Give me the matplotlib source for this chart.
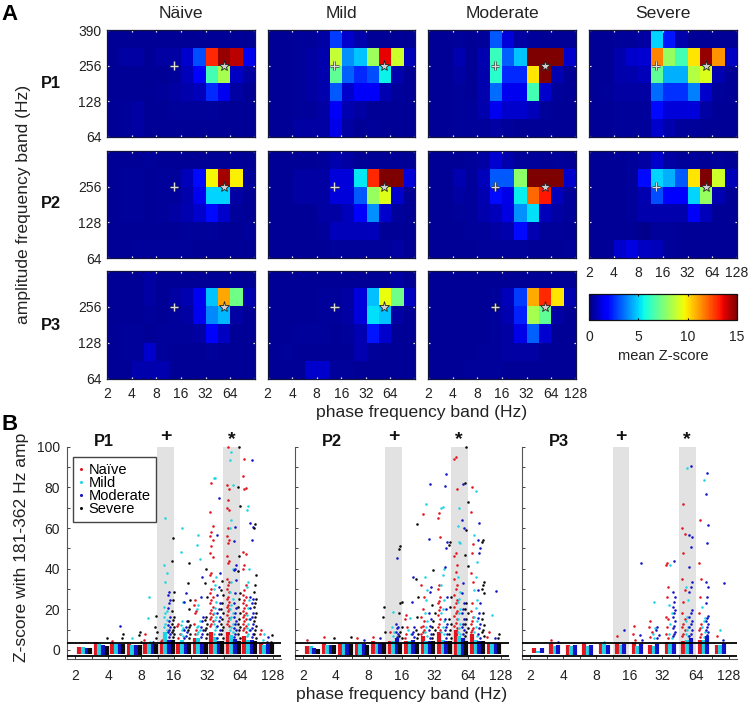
import matplotlib
matplotlib.use("Agg")
import matplotlib.pyplot as plt
import matplotlib.patheffects as pe
from matplotlib.cm import ScalarMappable
from matplotlib.colors import Normalize
from matplotlib.ticker import NullFormatter

plt.rcParams['font.family'] = ['Liberation Sans', 'DejaVu Sans']

W, H = 749, 706

PHASE_TICKS = [2, 4, 8, 16, 32, 64, 128]
GROUPS = ["Naïve", "Mild", "Moderate", "Severe"]
COLORS = ['#e3141f', '#1fd5e4', '#1212c8', '#0a0a0a']
DODGE = [0.27, 0.48, 0.7, 0.92]

# mean Z-score maps: 6 amplitude bands (top row first) x 12 phase bands
MAP_P1_NAIVE = [
    [.3, .3, .3, .3, .3, .3, .3, .3, .3, .3, .3, .3],
    [.3, .5, .5, .3, .5, .5, 1.0, 3.0, 13.0, 14.7, 14.2, 1.5],
    [.3, .3, .3, .3, .3, .4, .8, 1.8, 6.5, 8.3, .9, .5],
    [.3, .3, .3, .3, .4, .5, .6, .8, 2.5, 1.5, .5, .3],
    [.3, .4, .5, .3, .3, .4, .4, .4, .4, .3, .3, .3],
    [.3, .4, .5, .3, .3, .3, .3, .3, .3, .3, .3, .3],
]
MAP_P1_MILD = [
    [.3, .3, .4, .4, .5, 2.8, 1.0, .6, .3, .3, .3, .3],
    [.3, .3, .4, .5, .6, 8.8, 4.0, 4.8, 8.1, 13.6, 9.0, .8],
    [.3, .3, .4, .5, .6, 7.0, 3.3, 2.5, 3.0, 5.5, .6, .3],
    [.3, .3, .4, .5, .6, 3.2, 1.0, 1.6, 1.6, .7, .4, .3],
    [.3, .3, .4, .4, .5, 1.6, .7, .5, .3, .3, .3, .3],
    [.3, .3, .5, .5, .5, 1.4, .5, .3, .4, .3, .3, .3],
]
MAP_P1_MODERATE = [
    [.3, .3, .4, .3, .4, 3.2, 1.2, .5, .4, .3, .3, .3],
    [.3, .3, .7, .3, .7, 6.3, 3.3, 4.8, 15, 15, 15, 1.0],
    [.3, .3, .5, .3, .6, 6.0, 2.5, 2.5, 10.0, 15, .7, .3],
    [.3, .3, .4, .3, .6, 3.5, 1.5, 1.5, 6.5, 1.0, .4, .3],
    [.3, .3, .4, .4, .6, 1.5, 1.0, 1.0, .8, .4, .3, .3],
    [.3, .3, .4, .4, .4, .5, .4, .3, .3, .3, .3, .3],
]
MAP_P1_SEVERE = [
    [.3, .3, .4, .4, .5, 5.0, 2.2, .6, .3, .3, .3, .3],
    [.3, .3, .6, 1.0, 1.1, 11.5, 8.0, 6.5, 10.0, 14.7, 11.3, .9],
    [.3, .3, .6, .6, .8, 7.0, 4.5, 4.5, 8.5, 9.2, .7, .3],
    [.3, .4, .5, .5, .5, 3.5, 2.6, 2.6, 3.8, 1.0, .4, .3],
    [.3, .3, .4, .4, .4, 2.0, 1.2, 1.2, 1.2, .5, .3, .3],
    [.3, .3, .4, .4, .4, 1.0, .6, .4, .4, .3, .3, .3],
]
MAP_P2_NAIVE = [
    [.3, .3, .3, .4, .3, .3, .3, .3, .3, .3, .3, .3],
    [.3, .4, .4, .3, .4, .4, .8, 2.0, 9.7, 14.5, 9.8, .4],
    [.3, .4, .4, .3, .4, .4, .6, 1.5, 5.0, 5.0, .5, .3],
    [.3, .4, .4, .3, .4, .5, .7, 1.0, 2.0, 1.0, .4, .3],
    [.3, .3, .3, .3, .3, .3, .4, .4, .4, .3, .3, .4],
    [.3, .3, .4, .4, .4, .4, .4, .3, .3, .3, .3, .3],
]
MAP_P2_MILD = [
    [.3, .3, .3, .3, .4, .6, .5, .3, .3, .3, .3, .3],
    [.3, .3, .5, .5, .5, 1.2, 1.2, 5.3, 13.0, 15, 15, 1.2],
    [.3, .3, .5, .5, .5, 1.2, 1.2, 3.2, 8.0, 9.3, 1.0, .3],
    [.3, .3, .3, .3, .5, .5, .8, 1.7, 4.0, 1.0, .4, .3],
    [.3, .3, .3, .3, .4, .8, .8, .8, .8, .3, .3, .3],
    [.3, .3, .3, .3, .3, .4, .4, .4, .4, .4, .5, .3],
]
MAP_P2_MODERATE = [
    [.3, .3, .3, .4, .5, 1.1, .6, .4, .4, .3, .4, .3],
    [.3, .3, .7, .4, .8, 3.2, 3.2, 7.8, 15, 15, 15, 1.0],
    [.3, .3, .5, .4, .7, 2.0, 1.4, 5.4, 12.0, 13.3, .8, .4],
    [.3, .3, .4, .4, .6, .8, 1.3, 4.0, 5.2, .8, .5, .4],
    [.3, .3, .3, .4, .4, .5, .6, 2.0, .7, .4, .4, .3],
    [.3, .3, .3, .3, .4, .4, .4, .4, .3, .3, .3, .4],
]
MAP_P2_SEVERE = [
    [.3, .3, .3, .4, .5, 1.0, .5, .4, .4, .3, .4, .3],
    [.3, .3, .3, .4, 2.0, 5.0, 4.5, 3.2, 10.0, 15, 9.0, .8],
    [.3, .3, .3, .4, .7, 3.0, 1.8, 1.8, 5.0, 8.0, .7, .3],
    [.3, .3, .3, .4, .6, .6, .6, .6, 1.6, .8, .3, .3],
    [.3, .3, .3, .3, .2, .4, .4, .3, .3, .3, .3, .3],
    [.3, .3, 1.0, 1.3, .9, .8, .4, .3, .3, .3, .3, .3],
]
MAP_P3_NAIVE = [
    [.3, .3, .3, .5, .3, .3, .3, .3, .3, .3, .3, .3],
    [.3, .3, .3, .5, .3, .5, .7, 1.5, 4.8, 11.0, 7.3, .7],
    [.3, .3, .3, .4, .3, .4, .5, 1.5, 3.9, 4.6, .5, .3],
    [.3, .4, .4, .3, .4, .4, .4, .5, 1.7, .9, .3, .3],
    [.3, .4, .4, 1.0, .4, .3, .3, .3, .4, .3, .3, .3],
    [.3, .3, .6, .6, .7, .3, .3, .3, .3, .3, .3, .3],
]
MAP_P3_MILD = [
    [.3, .3, .3, .3, .3, .3, .3, .3, .3, .3, .5, .3],
    [.3, .3, .3, .3, .4, .4, .5, 1.2, 4.7, 9.5, 7.3, .9],
    [.3, .3, .3, .3, .4, .4, .5, 1.2, 5.2, 4.8, .5, .3],
    [.3, .3, .4, .4, .4, .3, .4, .7, 2.2, 1.0, .3, .3],
    [.3, .4, .3, .3, .3, .3, .3, .7, .4, .3, .3, .3],
    [.3, .3, .3, 1.0, 1.0, .4, .4, .3, .3, .3, .3, .3],
]
MAP_P3_MODERATE = [
    [.3, .3, .3, .3, .3, .3, .3, .3, .3, .3, .3, .3],
    [.3, .3, .3, .3, .3, .4, .8, 2.8, 10.9, 13.0, 10.0, .7],
    [.3, .3, .3, .3, .3, .4, .7, 2.4, 8.3, 7.0, .5, .3],
    [.3, .3, .3, .3, .3, .4, .5, 1.4, 3.3, 1.1, .3, .3],
    [.3, .3, .3, .3, .4, .4, .5, .5, .5, .3, .3, .3],
    [.3, .3, .3, .4, .4, .4, .3, .3, .3, .3, .3, .3],
]

# dense part of each cluster in panel B, read as floor and top per phase band
P1_FLOOR = [-1.8, -2.4, -2.2, -2.4, -2.2, -2.2, -2.2, -2.2, -2.2, -2.2, -2.2, -2.0]
P2_FLOOR = [-2.0, -2.2, -2.3, -2.5, -2.2, -2.2, -2.2, -2.0, -2.0, -2.4, -2.2, -2.2]
P3_FLOOR = [-1.4, -2.2, -2.4, -2.4, -2.2, -2.2, -2.2, -2.2, -2.2, -2.2, -2.2, -2.2]
P1_TOPS = [
    [1.5, 4.0, 3.2, 2.8, 3.5, 3.5, 4.0, 6.0, 9.0, 9.0, 7.0, 3.5],
    [1.5, 3.0, 3.0, 2.2, 3.0, 9.0, 5.0, 6.0, 6.5, 7.5, 5.0, 2.5],
    [1.2, 2.5, 3.0, 2.6, 3.0, 5.0, 3.5, 4.0, 4.5, 5.5, 5.0, 3.0],
    [1.2, 2.0, 3.0, 2.6, 3.0, 5.0, 4.0, 4.0, 4.5, 4.5, 4.5, 3.5],
]
P2_TOPS = [
    [1.8, 3.5, 3.5, 3.5, 4.5, 4.5, 4.5, 7.0, 9.0, 10.0, 8.0, 3.5],
    [1.8, 2.5, 3.5, 3.0, 3.5, 4.5, 4.5, 4.5, 5.0, 7.0, 5.0, 3.5],
    [1.2, 2.5, 3.0, 3.0, 3.5, 6.0, 5.0, 4.5, 4.5, 6.0, 4.5, 3.5],
    [0.7, 2.5, 3.0, 2.6, 3.5, 3.5, 4.0, 4.5, 4.5, 4.5, 4.5, 3.5],
]
P3_TOPS = [
    [1.2, 3.0, 2.5, 3.5, 3.0, 3.5, 4.0, 2.5, 4.0, 4.5, 5.0, 2.5],
    [-0.5, 2.0, 2.0, 2.0, 3.0, 2.5, 2.0, 2.0, 3.5, 5.0, 5.0, 2.5],
    [1.0, 2.2, 2.5, 2.5, 2.5, 3.0, 3.0, 3.0, 4.0, 6.0, 7.0, 3.5],
]

# separate points above the dense part: phase band -> Z-scores
P1_NAIVE = {
    2: [4.5], 4: [8, 5], 5: [5, 4.5], 6: [13, 12, 8, 6],
    7: [24.6, 22, 19, 18, 13, 10, 8],
    8: [82, 68, 61, 58, 56, 54, 51, 47.5, 45.5, 38, 37, 34, 30, 28, 26, 24.6, 23, 21, 19.5, 18, 17.5, 16.4, 15, 14, 13, 12],
    9: [99.7, 81, 79, 74, 70, 69, 60, 56, 54, 52.5, 46, 44, 42.6, 35, 33.6, 32, 30, 28.7, 26, 25, 23.8, 22, 21, 20, 19, 17, 15.6, 14, 13, 12],
    10: [94, 85.6, 79.5, 79, 48, 47, 42, 40, 32, 29.5, 27, 26, 24.6, 23, 22, 20.5, 19, 18, 17, 16, 15, 14, 13, 12, 11, 10, 9],
    11: [10, 8],
}
P1_MILD = {
    3: [5.7], 4: [26, 15.5, 4],
    5: [64.7, 41.8, 37.7, 33.6, 21, 19, 18, 16.4, 14.8, 13, 11.5, 10],
    6: [60, 48, 23.8, 14, 12.3, 11, 10, 8, 7],
    7: [56.5, 51.6, 44.8, 22, 20, 14, 12, 11.5, 10, 9, 8],
    8: [84.7, 84.4, 36, 32, 30, 23.8, 20.5, 18, 16, 14.8, 13, 11.5, 10, 8],
    9: [97.5, 93.4, 81, 64, 60, 40, 33.6, 28.7, 25, 22, 20, 18, 16, 15, 13, 11.5, 10, 9],
    10: [71, 69, 40, 33.6, 31, 24.6, 20.5, 17, 15, 13, 11, 10, 8, 7],
    11: [8, 5],
}
P1_MODERATE = {
    2: [11.8], 4: [4],
    5: [28.7, 27, 24.6, 23, 20.5, 16.4, 14, 12.5, 11.5, 10, 9, 8, 6.5],
    6: [28, 23.8, 14, 11.5, 10, 9, 7, 6],
    7: [36, 26, 16.4, 14, 11.5, 10, 8, 6.5],
    8: [74.6, 56.6, 37.7, 31, 27, 23, 20, 18, 16, 14, 12, 10, 8, 6],
    9: [60.6, 53.6, 41.8, 40, 39.3, 34.4, 27.9, 23, 20.5, 18, 16.4, 14, 13, 11, 10, 8, 6.5],
    10: [93.4, 62.6, 60.6, 54, 26, 25, 23, 20.5, 18, 16.4, 15, 13, 11, 10, 8, 6.5],
    11: [6.5, 4],
}
P1_SEVERE = {
    1: [5.7], 2: [8, 5.7], 3: [9, 7.4, 4],
    4: [16.7, 11.5, 9, 5.7],
    5: [55, 44, 28.7, 24.6, 19, 16.4, 14.5, 13, 11.5, 10, 9, 8, 6.5],
    6: [43, 33, 24.6, 20, 14, 12.5, 11.5, 10, 8, 6],
    7: [40, 33, 26, 16.4, 14.5, 13, 11, 10, 8, 6],
    8: [34, 29.5, 27, 23, 20, 18, 15, 13, 11.5, 10, 8, 6],
    9: [100, 80, 71, 46, 39, 28, 25, 21, 18, 15, 13, 11.5, 10, 8, 6],
    10: [62, 60, 37, 32, 28.7, 25, 23, 21, 18, 16.4, 14, 12, 10, 8, 6],
    11: [7.4, 4],
}
P2_NAIVE = {
    0: [5], 1: [6.5], 3: [5.7], 4: [6.5], 5: [9],
    6: [17, 15, 11.5, 8, 6],
    7: [67, 32, 26, 20, 16, 14, 12, 11.5, 10, 9, 8],
    8: [67.5, 64.7, 55.7, 32, 30, 26, 24, 23, 21, 19.7, 17, 15, 13, 11.5, 10],
    9: [94.8, 93.8, 79, 47.9, 46, 42, 38.5, 35, 32, 30, 27, 24.6, 23, 21, 19, 18, 16.5, 15, 13.5, 12, 11],
    10: [80, 68, 52, 47.5, 37.7, 33.6, 23, 19, 16.4, 14, 13, 11, 10, 9],
    11: [9, 6.5],
}
P2_MILD = {
    5: [18.9, 11.5, 9, 7], 6: [15.6, 10, 8],
    7: [72, 36, 29.5, 24.6, 18, 14, 11.5, 9, 7],
    8: [70.5, 69.7, 40, 37, 32, 24.6, 20, 18, 14, 11.5, 9, 8],
    9: [69.7, 61, 52.8, 53, 36, 28.7, 25, 23.8, 20, 18, 15, 13, 11, 9, 8],
    10: [78, 56.6, 43.4, 36, 29.5, 24.6, 20.5, 16, 14, 11.5, 9, 7],
    11: [17],
}
P2_MODERATE = {
    3: [5], 4: [5.7],
    5: [45, 13, 11.5, 10.6, 9, 8, 6.5],
    6: [36, 23.8, 11.5, 9, 8, 6.5],
    7: [81.6, 54.4, 31, 28.7, 18, 15, 12, 10, 8, 6],
    8: [86.6, 80.6, 53.3, 50, 41, 26, 20, 15, 13, 11.5, 10, 8, 6],
    9: [81.6, 64, 60, 32.8, 27.9, 23, 20, 18, 15, 13, 11.5, 10, 8],
    10: [62.6, 54, 50, 47.5, 29.5, 23, 18, 15.6, 13, 11, 8, 5.7],
    11: [29, 5.7],
}
P2_SEVERE = {
    1: [5.7], 2: [6.2],
    4: [21.3, 16.4, 9],
    5: [51, 49.7, 23.8, 23, 18, 11.5, 9, 7, 6],
    6: [62, 35, 26, 16, 10, 8, 6],
    7: [39.3, 22, 18, 14, 11.5, 10, 8, 6],
    8: [53.3, 51.6, 26, 21, 15, 13, 10, 8, 6],
    9: [100, 82, 73, 59, 46.7, 41.3, 23, 20, 18, 15, 13, 11, 9, 7],
    10: [54, 53, 33.6, 32, 30, 28, 18, 15, 12.3, 10, 9, 7],
    11: [8, 5.7],
}
P3_NAIVE = {
    1: [5], 5: [7], 6: [11.8, 8, 5],
    7: [14, 11.5, 9, 6.5],
    8: [43, 41.8, 31, 26, 16.4, 15, 11.5, 8, 6],
    9: [72, 60, 57, 47.5, 35, 29.5, 23.8, 18, 15, 13, 11.5, 10, 8, 7],
    10: [64, 42.6, 35, 26, 18, 13, 11, 10, 8, 6.5],
    11: [7],
}
P3_MILD = {
    4: [4], 7: [23.8, 8, 11, 6],
    8: [41.8, 22, 18, 13, 8, 6],
    9: [89.3, 31, 24.6, 16.4, 14, 11.5, 10, 8, 7],
    10: [83.6, 21, 15.6, 14, 11.5, 9, 6.5],
    11: [10],
}
P3_MODERATE = {
    1: [4], 5: [10], 6: [43, 7.4, 5],
    7: [11.5, 10, 7.4, 6],
    8: [44, 28.7, 26, 23.8, 21, 19.7, 18, 16.4, 14, 12, 10.6, 9, 8, 7],
    9: [90.7, 56.6, 55.7, 50.8, 41, 33.6, 31, 28.7, 19.7, 18, 16, 14, 13, 11.5, 10, 8, 7],
    10: [87, 76.6, 61.5, 52.8, 33.6, 31, 26, 23, 16.5, 15.6, 14, 13, 11.5, 10, 9, 7.4],
    11: [32.8, 5],
}

fig = plt.figure(figsize=(W / 100, H / 100), dpi=100)


def px_axes(left, top, right, bottom):
    return fig.add_axes([left / W, 1 - bottom / H, (right - left) / W, (bottom - top) / H])


def px_text(x, y, s, **kw):
    kw.setdefault('ha', 'center')
    kw.setdefault('va', 'center')
    fig.text(x / W, 1 - y / H, s, **kw)


def draw_map(values, box, ylabels, xlabels):
    ax = px_axes(*box)
    ax.imshow(values, cmap='jet', vmin=0, vmax=15, aspect='auto',
              interpolation='nearest', extent=(0, 12, 0, 6))
    ax.set_xticks(range(0, 13, 2))
    ax.set_yticks([0, 2, 4, 6])
    ax.set_xticklabels(xlabels, fontsize=10)
    ax.set_yticklabels(ylabels, fontsize=10)
    ax.tick_params(axis='both', direction='in', color='white', length=1.6, width=0.9,
                   top=True, right=True, labelcolor='#222222')
    ax.tick_params(axis='x', pad=6)
    ax.tick_params(axis='y', pad=4)
    for s in ax.spines.values():
        s.set_color('#10143c')
        s.set_linewidth(0.9)
    outline = [pe.withStroke(linewidth=1.8, foreground='#333333')]
    ax.plot([5.45], [4.0], marker='+', ms=6, mew=0.9, color='#dddddd', path_effects=outline)
    ax.plot([9.45], [4.0], marker='*', ms=8, mew=0.6, mfc='#cfcfcf', mec='#222222')


labels_no128 = ['2', '4', '8', '16', '32', '64', '']
labels_all = [str(t) for t in PHASE_TICKS]
no_labels = [''] * 7

col_x = [(107, 255), (267.5, 415), (428, 576), (589, 737)]
row_y = [(30, 137), (151, 258), (271, 379)]
MAPS = [
    [MAP_P1_NAIVE, MAP_P1_MILD, MAP_P1_MODERATE, MAP_P1_SEVERE],
    [MAP_P2_NAIVE, MAP_P2_MILD, MAP_P2_MODERATE, MAP_P2_SEVERE],
    [MAP_P3_NAIVE, MAP_P3_MILD, MAP_P3_MODERATE],
]
for r, row in enumerate(MAPS):
    for c, values in enumerate(row):
        ylab = ['', '', '', '']
        if c == 0:
            ylab = ['64', '128', '256', '390' if r == 0 else '']
        xlab = no_labels
        if r == 2:
            xlab = labels_all if c == 2 else labels_no128
        if r == 1 and c == 3:
            xlab = labels_all
        draw_map(values, (col_x[c][0], row_y[r][0], col_x[c][1], row_y[r][1]), ylab, xlab)

for name, (x0, x1) in zip(["Näive", "Mild", "Moderate", "Severe"], col_x):
    px_text((x0 + x1) / 2, 13, name, fontsize=12.6, color='#222222')
for name, y in zip(["P1", "P2", "P3"], [84, 204, 325]):
    px_text(51, y, name, fontsize=11.8, fontweight='bold', color='#111111')

cax = px_axes(589, 294, 737, 320)
cb = fig.colorbar(ScalarMappable(Normalize(0, 15), 'jet'), cax=cax, orientation='horizontal')
cb.set_ticks([0, 5, 10, 15])
cb.ax.tick_params(labelsize=10, length=1.6, width=0.8, direction='in', pad=7, top=True, labelcolor='#222222')
cb.outline.set_edgecolor('#111111')
cb.outline.set_linewidth(0.9)
px_text(663, 356, "mean Z-score", fontsize=10.5, color='#222222')

px_text(24, 204, "amplitude frequency band (Hz)", fontsize=12.6, rotation=90, color='#222222')
px_text(422, 413, "phase frequency band (Hz)", fontsize=12.6, color='#222222')
px_text(10, 15, "A", fontsize=16, fontweight='bold', color='black')
px_text(10, 424, "B", fontsize=16, fontweight='bold', color='black')

# panel B
TOP, BOTTOM = 446.7, 659.1


def draw_scatter(left, right, title, floor, tops, points):
    ax = px_axes(left, TOP, right, BOTTOM)
    ax.set_xscale('log', base=2)
    ax.set_xlim(2 * 2 ** (-8 / 33), 128 * 2 ** (8 / 33))
    ax.set_ylim(-4.5, 100)
    ax.axvspan(11.31, 16, color='#e2e2e2', lw=0, zorder=0)
    ax.axvspan(45.25, 64, color='#e2e2e2', lw=0, zorder=0)
    for g, (top, pts) in enumerate(zip(tops, points)):
        xs = [2 * 2 ** ((b + DODGE[g]) / 2) for b in range(12)]
        # baseline points merge into solid blocks in the reference
        ax.vlines(xs, floor, top, color=COLORS[g], lw=3.0, zorder=2 + g)
        sx, sy = [], []
        for band, zs in pts.items():
            for i, z in enumerate(zs):
                shift = [0, -0.07, 0.07][i % 3]
                sx.append(2 * 2 ** ((band + DODGE[g] + shift) / 2))
                sy.append(z)
        ax.scatter(sx, sy, s=3.4, color=COLORS[g], lw=0, zorder=2 + g, clip_on=False)
    ax.axhline(3.6, color='black', lw=1.3, zorder=10)
    ax.axhline(-3.0, color='black', lw=1.3, zorder=10)
    ax.set_xticks(PHASE_TICKS)
    ax.set_xticklabels(labels_all, fontsize=10, color='#222222')
    ax.set_xticks([2 * 2 ** ((2 * k + 1) / 2) for k in range(6)], minor=True)
    ax.xaxis.set_minor_formatter(NullFormatter())
    ax.set_yticks(range(0, 101, 10))
    ax.spines['top'].set_visible(False)
    ax.spines['right'].set_visible(False)
    ax.spines['left'].set_color('#555555')
    ax.spines['bottom'].set_color('#555555')
    ax.tick_params(axis='both', which='both', direction='in', length=2.4, width=0.7, color='#444444')
    ax.tick_params(axis='x', pad=7)
    ax.set_facecolor('none')
    px_text(left + 37, 441, title, fontsize=11.8, fontweight='bold', color='#111111')
    px_text(left + 99, 436, "+", fontsize=14, fontweight='bold', color='#111111')
    px_text(left + 164.5, 440, "*", fontsize=14, fontweight='bold', color='#111111')
    return ax


ax1 = draw_scatter(67, 281, "P1", P1_FLOOR, P1_TOPS, [P1_NAIVE, P1_MILD, P1_MODERATE, P1_SEVERE])
ax2 = draw_scatter(294.7, 508.7, "P2", P2_FLOOR, P2_TOPS, [P2_NAIVE, P2_MILD, P2_MODERATE, P2_SEVERE])
ax3 = draw_scatter(522, 736.7, "P3", P3_FLOOR, P3_TOPS, [P3_NAIVE, P3_MILD, P3_MODERATE])

ax1.set_yticklabels(['0', '', '20', '', '40', '', '60', '', '80', '', '100'], fontsize=10, color='#222222')
ax1.tick_params(axis='y', pad=5)
ax2.set_yticklabels([])
ax3.set_yticklabels([])

handles = [plt.Line2D([], [], ls='', marker='o', ms=2.2, mew=0, color=c) for c in COLORS]
leg = ax1.legend(handles, GROUPS, loc='upper left', bbox_to_anchor=((72.7 - 67) / 214, (659.1 - 456.7) / 212.4),
                 fontsize=10.5, frameon=True, fancybox=False, framealpha=1, edgecolor='#444444',
                 borderpad=0.42, labelspacing=-0.06, handlelength=0.3, handletextpad=0.35, borderaxespad=0)
leg.get_frame().set_linewidth(1.0)
leg.set_zorder(20)

px_text(22, 547, "Z-score with 181-362 Hz amp", fontsize=12.6, rotation=90, color='#222222')
px_text(402, 694, "phase frequency band (Hz)", fontsize=12.6, color='#222222')

fig.savefig("out.png", dpi=100)
